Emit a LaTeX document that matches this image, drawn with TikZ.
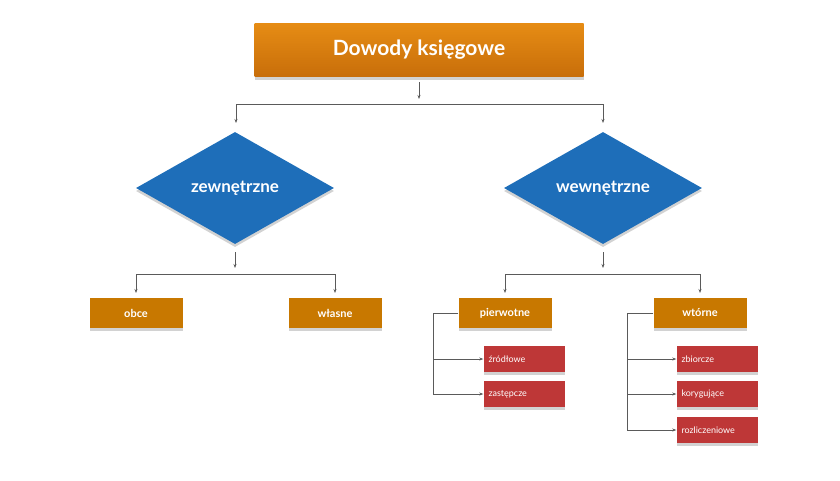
\documentclass[tikz,border=0pt]{standalone}
\usepackage{fontspec}
\setmainfont{Lato}
\usetikzlibrary{shapes.geometric,shadows,arrows.meta}
\definecolor{orangeTop}{RGB}{230,140,20}
\definecolor{orangeBot}{RGB}{200,110,10}
\definecolor{boxOrange}{RGB}{200,120,0}
\definecolor{boxRed}{RGB}{190,55,55}
\definecolor{diaBlue}{RGB}{30,110,185}
\definecolor{lineGrey}{RGB}{90,90,90}
\begin{document}
\begin{tikzpicture}[x=1pt, y=-1pt,
        shade/.style={drop shadow={shadow xshift=0pt, shadow yshift=-3pt, fill=black!35}},
        title/.style={shade, top color=orangeTop, bottom color=orangeBot, minimum width=329pt, minimum height=53pt, text=white, font=\bfseries\fontsize{21}{24}\selectfont},
        rhomb/.style={diamond, shade, fill=diaBlue, minimum width=198pt, minimum height=112pt, aspect=1.77, inner sep=0pt, text=white, font=\bfseries\fontsize{17}{20}\selectfont},
        kind/.style={shade, fill=boxOrange, minimum width=93pt, minimum height=30pt, inner sep=0pt, text=white, font=\bfseries\fontsize{11}{13}\selectfont},
        sub/.style={shade, fill=boxRed, minimum width=81pt, minimum height=26pt, inner sep=0pt, text=white, font=\fontsize{9}{11}\selectfont, text width=71pt, align=left},
        link/.style={draw=lineGrey, line width=0.7pt},
        arr/.style={link, -{Stealth[length=4pt, width=3pt]}},
    ]
    \useasboundingbox (0,0) rectangle (840,480);

    % top
    \node[title] (root) at (419,50) {Dowody księgowe};
    \node[rhomb] (ext) at (235,188) {zewnętrzne};
    \node[rhomb] (int) at (603,188) {wewnętrzne};
    \coordinate (rootA) at (419,82);
    \coordinate (rootB) at (419,99);
    \draw[arr] (rootA) -- (rootB);
    \draw[link] (236,104) -- (603,104);
    \draw[arr] (236,104) -- (236,123);
    \draw[arr] (603,104) -- (603,123);

    % zewnetrzne
    \node[kind] (obce) at (136,313) {obce};
    \node[kind] (wlasne) at (335,313) {własne};
    \draw[arr] (235,252) -- (235,268);
    \draw[link] (136,274) -- (335,274);
    \draw[arr] (136,274) -- (136,293);
    \draw[arr] (335,274) -- (335,293);

    % wewnetrzne
    \node[kind] (pierw) at (505,313) {pierwotne};
    \node[kind] (wtor) at (700,313) {wtórne};
    \draw[arr] (603,252) -- (603,268);
    \draw[link] (505,274) -- (700,274);
    \draw[arr] (505,274) -- (505,293);
    \draw[arr] (700,274) -- (700,293);

    \node[sub] (zrod) at (524,359) {źródłowe};
    \node[sub] (zast) at (524,394) {zastępcze};
    \draw[link] (pierw.west) -- (433,313) -- (433,394);
    \draw[arr] (433,359) -- (zrod.west);
    \draw[arr] (433,394) -- (zast.west);

    \node[sub] (zbior) at (717,359) {zbiorcze};
    \node[sub] (koryg) at (717,394) {korygujące};
    \node[sub] (rozl) at (717,430) {rozliczeniowe};
    \draw[link] (wtor.west) -- (627,313) -- (627,430);
    \draw[arr] (627,359) -- (zbior.west);
    \draw[arr] (627,394) -- (koryg.west);
    \draw[arr] (627,430) -- (rozl.west);
\end{tikzpicture}
\end{document}
